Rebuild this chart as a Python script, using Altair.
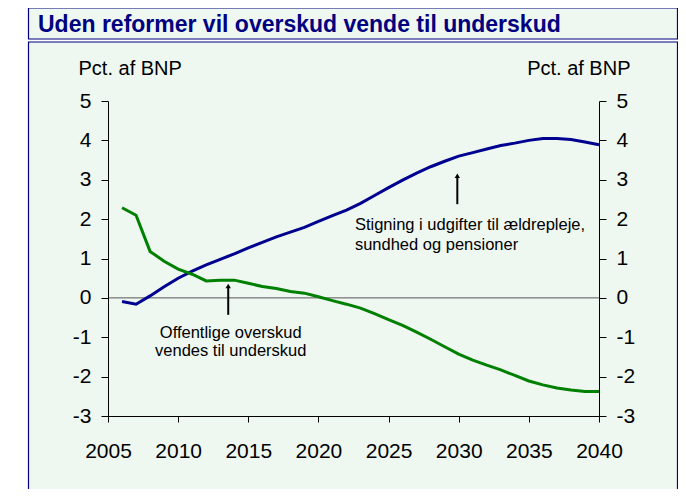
import altair as alt
import pandas as pd

# ---------------- data ----------------
years = list(range(2006, 2041))
# Stigning i udgifter (blue)
spending = [-0.09, -0.16, 0.05, 0.28, 0.50, 0.68, 0.84, 0.98, 1.12, 1.27,
            1.41, 1.55, 1.67, 1.79, 1.94, 2.09, 2.23, 2.40, 2.60, 2.80,
            2.99, 3.17, 3.33, 3.47, 3.60, 3.69, 3.78, 3.87, 3.93, 4.00,
            4.05, 4.05, 4.02, 3.96, 3.89]
# Offentlig saldo (green)
balance = [2.29, 2.10, 1.18, 0.93, 0.73, 0.60, 0.43, 0.45, 0.45, 0.37,
           0.29, 0.24, 0.16, 0.12, 0.03, -0.07, -0.16, -0.26, -0.40, -0.55,
           -0.70, -0.87, -1.05, -1.24, -1.43, -1.58, -1.71, -1.83, -1.97, -2.11,
           -2.21, -2.29, -2.34, -2.38, -2.38]

x_ticks = [2005, 2010, 2015, 2020, 2025, 2030, 2035, 2040]
y_ticks = [-3, -2, -1, 0, 1, 2, 3, 4, 5]
title_text = "Uden reformer vil overskud vende til underskud"
axis_title = "Pct. af BNP"

# annotations (text lines anchored in data coordinates)
note1_lines = ["Offentlige overskud", "vendes til underskud"]
note1_year = [2013.75, 2013.75]
note1_value = [-1.02, -1.48]
note2_lines = ["Stigning i udgifter til ældrepleje,", "sundhed og pensioner"]
note2_year = [2022.6, 2022.6]
note2_value = [1.73, 1.22]
arrow_year = [2013.57, 2029.9]
arrow_base = [-0.43, 2.38]
arrow_tip = [0.30, 3.10]

df = pd.DataFrame({"year": years, "spending": spending, "balance": balance})
n1 = pd.DataFrame({"t": note1_lines, "year": note1_year, "v": note1_value})
n2 = pd.DataFrame({"t": note2_lines, "year": note2_year, "v": note2_value})
arr = pd.DataFrame({"year": arrow_year, "base": arrow_base, "tip": arrow_tip})
one = pd.DataFrame({"t": [title_text]})

# ---------------- styling ----------------
FONT = "Liberation Sans"
NAVY = "#000080"
BG = "#EFF7F1"
W, H = 491, 315

xscale = alt.Scale(domain=[2005, 2040], nice=False, zero=False)
yscale = alt.Scale(domain=[-3, 5], nice=False, zero=False)

xaxis = alt.Axis(values=x_ticks, format="d", title=None, grid=False, zindex=1,
                 labelFontSize=21, labelFont=FONT, labelColor="black",
                 tickSize=6, labelPadding=18, labelFlush=False, labelOverlap=False,
                 domainColor="black", tickColor="black")


def yaxis(orient, title_x, title_align):
    return alt.Axis(orient=orient, values=y_ticks, grid=False, zindex=1,
                    labelExpr="datum.value + ''",
                    title=axis_title, titleAngle=0, titleAlign=title_align,
                    titleBaseline="middle", titleX=title_x, titleY=-33,
                    titleFontSize=20, titleFontWeight="normal", titleFont=FONT,
                    titleColor="black",
                    labelFontSize=21, labelFont=FONT, labelColor="black",
                    tickSize=7, labelPadding=10, labelFlush=False,
                    domainColor="black", tickColor="black")


X = alt.X("year:Q", scale=xscale, axis=xaxis)

# background boxes
title_box = alt.Chart(one).mark_rect(fill=BG, stroke=NAVY, strokeWidth=1.2).encode(
    x=alt.value(-79.5), x2=alt.value(569.5), y=alt.value(-93), y2=alt.value(-62))
body_box = alt.Chart(one).mark_rect(fill=BG, stroke=NAVY, strokeWidth=1.2).encode(
    x=alt.value(-79.5), x2=alt.value(569.5), y=alt.value(-59), y2=alt.value(420))
title = alt.Chart(one).mark_text(align="left", baseline="middle", fontSize=23,
                                 fontWeight="bold", font=FONT, color=NAVY).encode(
    x=alt.value(-70), y=alt.value(-76), text="t:N")

zero = alt.Chart(one).mark_rule(color="#555555", strokeWidth=1).encode(
    y=alt.datum(0, scale=yscale, axis=None))

blue = alt.Chart(df).mark_line(color="#000090", strokeWidth=3).encode(
    x=X, y=alt.Y("spending:Q", scale=yscale, axis=yaxis("left", -30, "left")))
green = alt.Chart(df).mark_line(color="#008000", strokeWidth=3).encode(
    x=X, y=alt.Y("balance:Q", scale=yscale, axis=yaxis("right", 31, "right")))

arrow_line = alt.Chart(arr).mark_rule(color="black", strokeWidth=2).encode(
    x=X, y=alt.Y("base:Q", scale=yscale, axis=None), y2="tip:Q")
arrow_head = alt.Chart(arr).mark_point(shape="triangle-up", filled=True, color="black",
                                       size=28, opacity=1).encode(
    x=X, y=alt.Y("tip:Q", scale=yscale, axis=None))

t1 = alt.Chart(n1).mark_text(align="center", baseline="alphabetic", fontSize=16.5,
                             font=FONT, color="black").encode(
    x=X, y=alt.Y("v:Q", scale=yscale, axis=None), text="t:N")
t2 = alt.Chart(n2).mark_text(align="left", baseline="alphabetic", fontSize=16.5,
                             font=FONT, color="black").encode(
    x=X, y=alt.Y("v:Q", scale=yscale, axis=None), text="t:N")

chart = alt.layer(
    title_box, body_box, title, zero, blue, green, arrow_line, arrow_head, t1, t2
).resolve_scale(y="independent").properties(
    width=W, height=H,
    padding={"left": 100, "top": 93, "right": 79, "bottom": 73},
    autosize=alt.AutoSizeParams(type="none"),
    background="white",
).configure_view(strokeWidth=0)

chart.save("out.html", embed_options={"renderer": "svg", "actions": False})
